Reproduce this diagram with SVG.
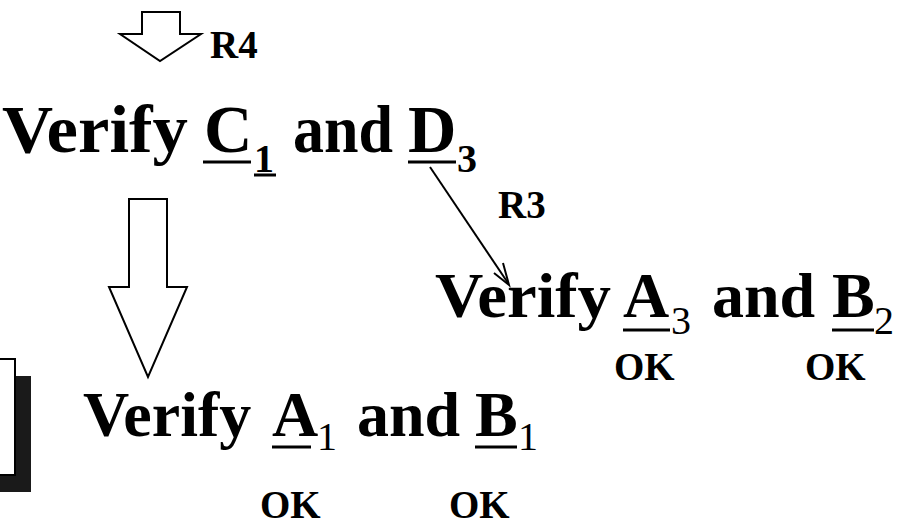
<svg xmlns="http://www.w3.org/2000/svg" width="914" height="525" viewBox="0 0 914 525">
<style>
text{font-family:"Liberation Serif","Times New Roman",serif;font-weight:bold;fill:#000}
.top{font-size:67px}
.main{font-size:64px}
.lbl{font-size:39px}
.sub{font-size:40px}
.reg{font-weight:normal}
.ul{stroke:#000;stroke-width:3}
.blk{fill:#fff;stroke:#000;stroke-width:2}
</style>
<rect width="914" height="525" fill="#fff"/>
<g id="leftbox">
<rect x="0" y="376" width="31" height="116" fill="#1a1a1a"/>
<rect x="-10" y="359" width="25" height="116" class="blk"/>
</g>
<g id="connectors">
<polygon id="arrowR4" class="blk" points="142,12 180,12 180,34 201,34 160,61 120,34 142,34"/>
<text x="210" y="58" class="lbl">R4</text>
<polygon id="arrowBig" class="blk" points="129,199 167,199 167,287 187,287 148,377 109,287 129,287"/>
<line x1="430" y1="167" x2="508" y2="283" stroke="#000" stroke-width="2"/>
<polyline points="494,273 509,285 503,263" fill="none" stroke="#000" stroke-width="2"/>
<text x="498" y="218" class="lbl">R3</text>
</g>
<g id="nodeCD">
<text class="top" x="2" y="152" textLength="186" lengthAdjust="spacingAndGlyphs">Verify</text>
<text class="top" x="204" y="152">C</text>
<text class="sub" x="254" y="172">1</text>
<text class="top" x="293" y="152" textLength="100" lengthAdjust="spacingAndGlyphs">and</text>
<text class="top" x="408" y="152">D</text>
<text class="sub" x="457" y="172">3</text>
<line x1="203" y1="162" x2="251" y2="162" class="ul"/>
<line x1="254" y1="175" x2="276" y2="175" class="ul"/>
<line x1="408" y1="162" x2="456" y2="162" class="ul"/>
</g>
<g id="nodeA3B2">
<text class="main" x="435" y="317" textLength="176" lengthAdjust="spacingAndGlyphs">Verify</text>
<text class="main" x="623" y="317">A</text>
<text class="sub reg" x="671" y="334">3</text>
<text class="main" x="712" y="317">and</text>
<text class="main" x="832" y="317">B</text>
<text class="sub reg" x="874" y="334">2</text>
<line x1="623" y1="330" x2="670" y2="330" class="ul"/>
<line x1="832" y1="330" x2="874" y2="330" class="ul"/>
<text x="614" y="380" class="lbl">OK</text>
<text x="805" y="380" class="lbl">OK</text>
</g>
<g id="nodeA1B1">
<text class="main" x="83" y="436">Verify</text>
<text class="main" x="272" y="436">A</text>
<text class="sub reg" x="317" y="450">1</text>
<text class="main" x="357" y="436">and</text>
<text class="main" x="475" y="436">B</text>
<text class="sub reg" x="518" y="450">1</text>
<line x1="272" y1="447" x2="311" y2="447" class="ul"/>
<line x1="475" y1="447" x2="517" y2="447" class="ul"/>
<text x="260" y="518" class="lbl">OK</text>
<text x="449" y="518" class="lbl">OK</text>
</g>
</svg>
